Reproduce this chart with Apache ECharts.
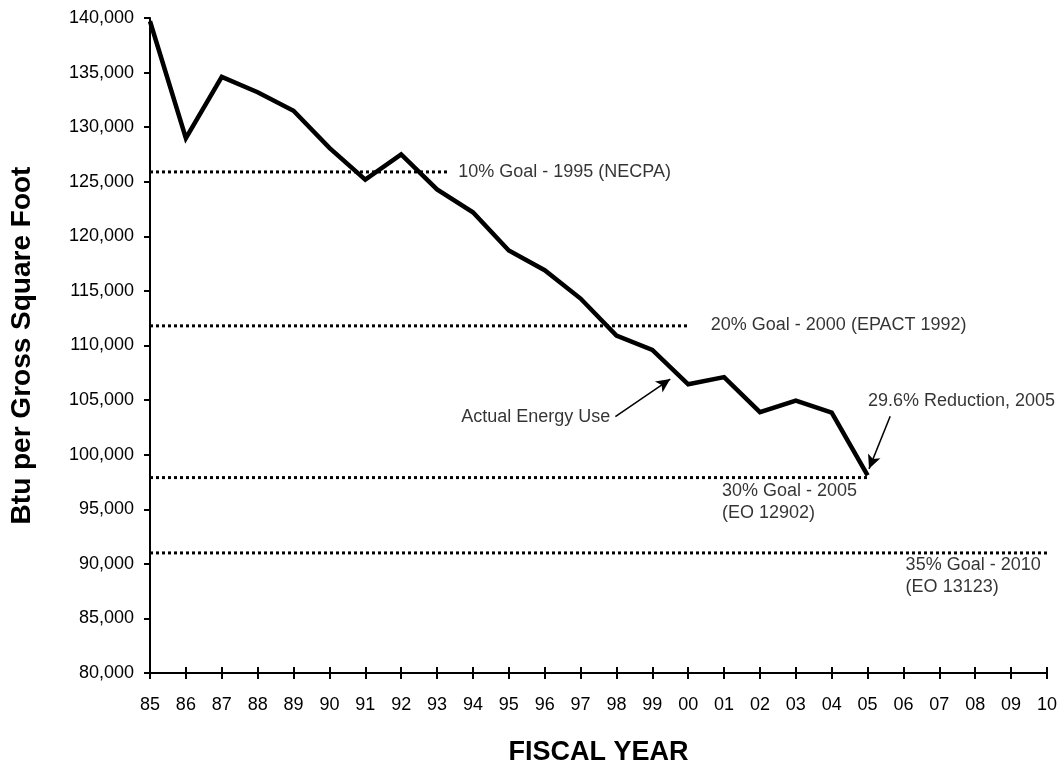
<!DOCTYPE html>
<html>
<head>
<meta charset="utf-8">
<script src="https://cdn.jsdelivr.net/npm/echarts@6/dist/echarts.min.js"></script>
<style>
html,body{margin:0;padding:0;background:#fff;}
#chart{width:1060px;height:771px;}
</style>
</head>
<body>
<div id="chart"></div>
<script>
// ---- data ----
const yearLabels = ['85','86','87','88','89','90','91','92','93','94','95','96','97','98','99','00','01','02','03','04','05','06','07','08','09','10'];
const energyUse = [139700,129000,134600,133200,131500,128100,125200,127500,124300,122200,118700,116900,114300,110900,109600,106450,107100,103900,104950,103850,98100];
// goal lines: [startIndex, endIndex, value]
const goal10 = [0, 8.3, 125900];
const goal20 = [0, 15, 111800];
const goal30 = [0, 20, 97900];
const goal35 = [0, 25, 91000];
// annotations: [xIndex, value, text]
const labelGoal10 = [8.59, 125900, '10% Goal - 1995 (NECPA)'];
const labelGoal20 = [15.63, 111900, '20% Goal - 2000 (EPACT 1992)'];
const labelGoal30 = [15.94, 95650, '30% Goal - 2005\n(EO 12902)'];
const labelGoal35 = [21.06, 88850, '35% Goal - 2010\n(EO 13123)'];
const labelActual = [12.83, 103430, 'Actual Energy Use'];
const labelReduction = [20.01, 104940, '29.6% Reduction, 2005'];
// arrows: [[x0,v0],[x1,v1]] tail -> head
const arrowActual = [[12.97, 103490], [14.5, 106930]];
const arrowReduction = [[20.63, 103520], [20.04, 98700]];

const tickFont = "'Liberation Sans',Arial,sans-serif";
const annFont = "'Liberation Sans',Arial,sans-serif";

function goalSeries(g){
  return {
    type:'line', symbol:'none', silent:true,
    data:[[g[0],g[2]],[g[1],g[2]]],
    lineStyle:{color:'#000', width:3, type:[3,3], cap:'butt'}
  };
}
function textSeries(l, pos){
  return {
    type:'scatter', symbolSize:0, silent:true,
    data:[[l[0],l[1]]],
    label:{show:true, position:pos, distance:0, formatter:l[2],
      fontFamily:annFont, fontSize:18, color:'#000', lineHeight:22, align: pos==='left'?'right':'left'}
  };
}

const chart = echarts.init(document.getElementById('chart'), null, {renderer:'canvas'});
chart.setOption({
  animation:false,
  backgroundColor:'#fff',
  grid:{left:148, right:13, top:18, bottom:89, containLabel:false},
  xAxis:[{
    type:'value', min:0, max:25, interval:1,
    name:'FISCAL YEAR', nameLocation:'middle', nameGap:66,
    nameTextStyle:{fontFamily:annFont, fontWeight:'bold', fontSize:27, color:'#000'},
    axisLine:{show:true, onZero:false, lineStyle:{color:'#000', width:2}},
    axisTick:{show:true, length:6, lineStyle:{color:'#000', width:2}},
    axisLabel:{formatter:(v)=>yearLabels[v] ?? '', fontFamily:tickFont, fontSize:18, color:'#000', margin:23},
    splitLine:{show:false}
  },{
    type:'value', min:0, max:25, interval:1, position:'bottom',
    axisLine:{show:false, onZero:false},
    axisTick:{show:true, inside:true, length:6, lineStyle:{color:'#000', width:2}},
    axisLabel:{show:false}, splitLine:{show:false}
  }],
  yAxis:{
    type:'value', min:80000, max:140000, interval:5000,
    name:'Btu per Gross Square Foot', nameLocation:'middle', nameGap:114, nameRotate:90,
    nameTextStyle:{fontFamily:annFont, fontWeight:'bold', fontSize:28, color:'#000'},
    axisLine:{show:true, lineStyle:{color:'#000', width:2}},
    axisTick:{show:true, length:6, lineStyle:{color:'#000', width:2}},
    axisLabel:{formatter:(v)=>v.toLocaleString('en-US'), fontFamily:tickFont, fontSize:18, color:'#000', margin:16},
    splitLine:{show:false}
  },
  series:[
    goalSeries(goal10), goalSeries(goal20), goalSeries(goal30), goalSeries(goal35),
    {
      type:'line', symbol:'none', silent:true,
      data: energyUse.map((v,i)=>[i,v]),
      lineStyle:{color:'#000', width:4.5, join:'miter'},
      markLine:{
        silent:true, symbol:['none','arrow'], symbolSize:[10,14],
        label:{show:false},
        lineStyle:{color:'#000', width:1.5, type:'solid'},
        data:[
          [{coord:arrowActual[0]},{coord:arrowActual[1]}],
          [{coord:arrowReduction[0]},{coord:arrowReduction[1]}]
        ]
      }
    },
    textSeries(labelGoal10,'right'),
    textSeries(labelGoal20,'right'),
    textSeries(labelGoal30,'right'),
    textSeries(labelGoal35,'right'),
    textSeries(labelActual,'left'),
    textSeries(labelReduction,'right')
  ]
});
</script>
</body>
</html>
